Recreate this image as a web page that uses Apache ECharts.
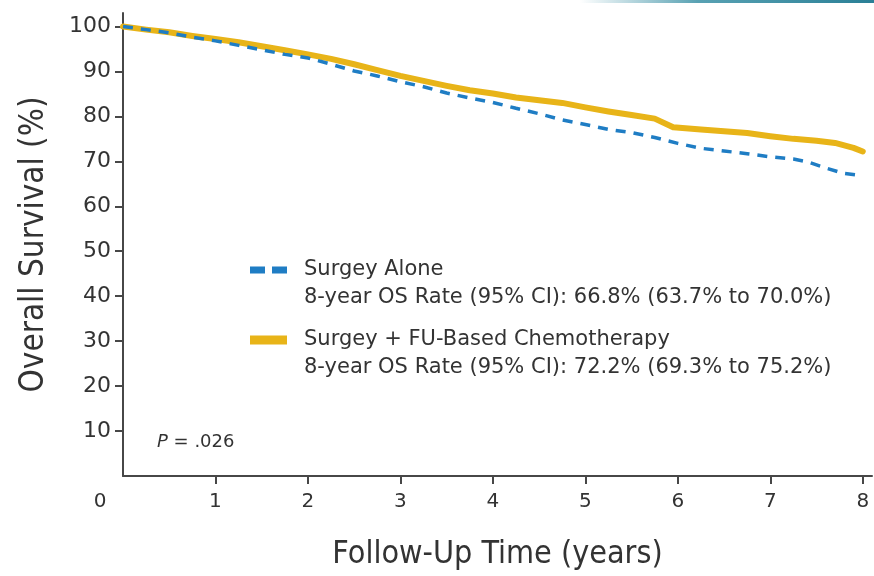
<!DOCTYPE html>
<html>
<head>
<meta charset="utf-8">
<title>Overall Survival</title>
<script src="https://cdn.jsdelivr.net/npm/echarts@6/dist/echarts.min.js"></script>
<style>
  html, body { margin: 0; padding: 0; background: #ffffff; }
  #chart { width: 874px; height: 576px; }
</style>
</head>
<body>
<div id="chart"></div>
<script>
// Kaplan-Meier overall survival, years of follow-up vs. % surviving
const chemoName = 'Surgey + FU-Based Chemotherapy';
const aloneName = 'Surgey Alone';
const chemoRate = '8-year OS Rate (95% CI): 72.2% (69.3% to 75.2%)';
const aloneRate = '8-year OS Rate (95% CI): 66.8% (63.7% to 70.0%)';

const chemoYears = [0, 0.25, 0.5, 0.75, 1.0, 1.25, 1.5, 1.75, 2.0, 2.25, 2.5, 2.75, 3.0, 3.25, 3.5, 3.75, 4.0, 4.25, 4.5, 4.75, 5.0, 5.25, 5.5, 5.75, 5.95, 6.25, 6.5, 6.75, 7.0, 7.25, 7.5, 7.7, 7.9, 8.0];
const chemoSurv  = [100, 99.3, 98.7, 97.9, 97.2, 96.5, 95.6, 94.7, 93.8, 92.8, 91.6, 90.3, 89.0, 87.9, 86.8, 85.8, 85.1, 84.2, 83.6, 83.0, 82.0, 81.1, 80.3, 79.5, 77.6, 77.1, 76.7, 76.3, 75.6, 75.0, 74.6, 74.1, 73.0, 72.2];

const aloneYears = [0, 0.25, 0.5, 0.75, 1.0, 1.25, 1.5, 1.75, 2.0, 2.25, 2.5, 2.75, 3.0, 3.25, 3.5, 3.75, 4.0, 4.25, 4.5, 4.75, 5.0, 5.25, 5.5, 5.75, 6.0, 6.25, 6.5, 6.75, 7.0, 7.25, 7.4, 7.6, 7.8, 8.0];
const aloneSurv  = [100, 99.3, 98.6, 97.6, 96.8, 95.8, 94.8, 93.8, 93.0, 91.6, 90.1, 89.0, 87.7, 86.6, 85.2, 84.1, 83.1, 81.8, 80.6, 79.2, 78.2, 77.1, 76.4, 75.3, 74.0, 72.9, 72.3, 71.7, 71.0, 70.5, 69.9, 68.5, 67.3, 66.8];

const xTickValues = [1, 2, 3, 4, 5, 6, 7, 8];
const xLabelValues = [0, 1, 2, 3, 4, 5, 6, 7, 8];
const yTickValues = [10, 20, 30, 40, 50, 60, 70, 80, 90, 100];

const pValue = '.026';

const blue = '#1f7dc4';
const gold = '#e8b418';
const ink = '#333333';
const axisInk = '#474747';
const labelFont = '"DejaVu Sans", sans-serif';
const nameFont = '"Liberation Sans Narrow", "DejaVu Sans Condensed", "Liberation Sans", sans-serif';

const pairs = (xs, ys) => xs.map((x, i) => [x, ys[i]]);
const rates = { [aloneName]: aloneRate, [chemoName]: chemoRate };

// Each legend entry: an empty leading line keeps the swatch level with the series name
const legendBase = {
  orient: 'vertical',
  left: 250,
  padding: 0,
  itemWidth: 37,
  selectedMode: false,
  formatter: name => '\n' + name + '\n' + rates[name],
  textStyle: {
    color: ink,
    fontFamily: labelFont,
    fontSize: 21,
    lineHeight: 28,
    padding: [0, 0, 0, 12]
  }
};

const chart = echarts.init(document.getElementById('chart'), null, { renderer: 'canvas' });

chart.setOption({
  backgroundColor: '#ffffff',
  animation: false,
  grid: { left: 123, right: 2, top: 13, bottom: 100, containLabel: false },
  xAxis: {
    type: 'value',
    min: 0,
    max: 8.1,
    interval: 1,
    name: 'Follow-Up Time (years)',
    nameLocation: 'middle',
    nameGap: 63,
    nameTextStyle: { color: ink, fontFamily: nameFont, fontSize: 32 },
    axisLine: { show: true, lineStyle: { color: axisInk, width: 2 } },
    axisTick: { show: true, length: 8, lineStyle: { color: axisInk, width: 2 }, customValues: xTickValues },
    axisLabel: {
      customValues: xLabelValues,
      color: ink,
      fontFamily: labelFont,
      fontSize: 20,
      margin: 16,
      formatter: v => (v === 0 ? '{z|0}' : String(v)),
      rich: { z: { padding: [0, 46, 0, 0], color: ink, fontFamily: labelFont, fontSize: 20 } }
    },
    splitLine: { show: false }
  },
  yAxis: {
    type: 'value',
    min: 0,
    max: 103,
    interval: 10,
    name: 'Overall Survival (%)',
    nameLocation: 'middle',
    nameGap: 72,
    nameTextStyle: { color: ink, fontFamily: nameFont, fontSize: 33 },
    axisLine: { show: true, lineStyle: { color: axisInk, width: 2 } },
    axisTick: { show: true, length: 8, lineStyle: { color: axisInk, width: 2 }, customValues: yTickValues },
    axisLabel: {
      customValues: yTickValues,
      color: ink,
      fontFamily: labelFont,
      fontSize: 22,
      margin: 12
    },
    splitLine: { show: false }
  },
  legend: [
    Object.assign({}, legendBase, {
      top: 228,
      itemHeight: 7,
      data: [{ name: aloneName, icon: 'path://M0,0H15V7H0Z M22,0H37V7H22Z', itemStyle: { color: blue } }]
    }),
    Object.assign({}, legendBase, {
      top: 298,
      itemHeight: 9,
      data: [{ name: chemoName, icon: 'rect', itemStyle: { color: gold } }]
    })
  ],
  title: {
    left: 152,
    top: 428,
    text: '{p|P} = ' + pValue,
    textStyle: {
      color: ink,
      fontFamily: labelFont,
      fontSize: 18,
      fontWeight: 'normal',
      rich: { p: { fontStyle: 'italic', fontFamily: labelFont, fontSize: 18, color: ink } }
    }
  },
  graphic: [
    {
      type: 'rect',
      left: 580,
      top: 0,
      shape: { width: 294, height: 3 },
      style: {
        fill: {
          type: 'linear', x: 0, y: 0, x2: 1, y2: 0,
          colorStops: [
            { offset: 0, color: 'rgba(47,138,160,0)' },
            { offset: 0.4, color: 'rgba(47,138,160,0.8)' },
            { offset: 1, color: '#2a7f96' }
          ]
        }
      },
      silent: true
    }
  ],
  series: [
    {
      name: chemoName,
      type: 'line',
      data: pairs(chemoYears, chemoSurv),
      showSymbol: false,
      symbol: 'none',
      lineStyle: { color: gold, width: 6, cap: 'round', join: 'round' },
      itemStyle: { color: gold },
      z: 2
    },
    {
      name: aloneName,
      type: 'line',
      data: pairs(aloneYears, aloneSurv),
      showSymbol: false,
      symbol: 'none',
      lineStyle: { color: blue, width: 3.5, type: [10, 8] },
      itemStyle: { color: blue },
      z: 3
    }
  ]
});
</script>
</body>
</html>
